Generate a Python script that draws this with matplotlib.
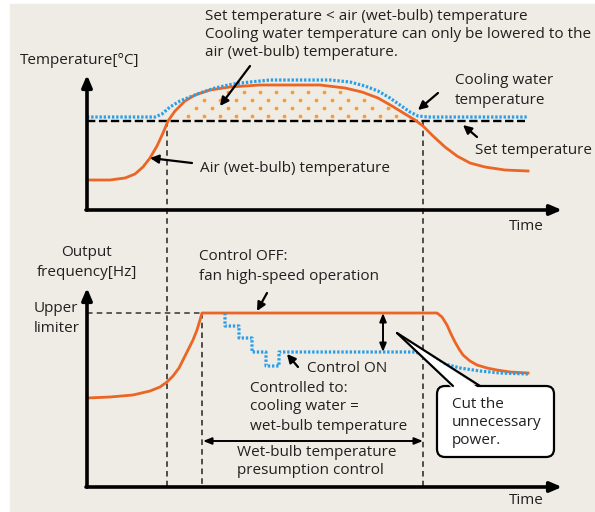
import numpy as np
import matplotlib
matplotlib.use('Agg')
import matplotlib.pyplot as plt
from matplotlib.patches import Rectangle, FancyBboxPatch, Polygon

plt.rcParams['font.family'] = ['Open Sans', 'DejaVu Sans']
plt.rcParams['lines.scale_dashes'] = False

# schematic values (x = time, y = level, in picture units)
air_t = [87, 110, 125, 135, 143, 150, 157, 163, 168, 175, 185, 195, 210, 230, 260, 290, 320, 345,
         362, 378, 392, 405, 415, 423, 433, 445, 457, 470, 485, 505, 528]
air_temp = [180, 180, 178, 174, 167, 158, 146, 133, 121, 111, 101, 95, 90, 87, 85, 85, 85, 88,
            92, 98, 106, 114, 120, 126, 136, 147, 156, 163, 167, 170, 171]
water_t = [87, 155, 162, 170, 180, 190, 200, 215, 233, 250, 270, 300, 330, 350, 365, 378, 390,
           400, 410, 418, 428, 527]
water_temp = [117, 117, 114, 107, 101, 97, 93, 88, 84, 82, 80, 80, 80, 82, 86, 91, 98,
              105, 112, 116, 117, 117]
set_temp = 121

off_t = [87, 110, 133, 150, 160, 167, 173, 179, 184, 189, 193, 197, 200, 202, 437, 442, 447,
         451, 455, 459, 463, 470, 477, 487, 497, 510, 528]
off_freq = [398, 397, 395, 391, 387, 382, 376, 368, 358, 348, 340, 330, 320, 313, 313, 317, 325,
            334, 342, 349, 355, 361, 365, 368, 370, 372, 373]
on_t = [225, 225, 239, 239, 252, 252, 266, 266, 279, 279, 415, 425, 435, 445, 460, 480, 500, 528]
on_freq = [313, 326, 326, 338, 338, 352, 352, 366, 366, 352, 352, 355, 360, 364, 368, 371, 373, 374]
upper_limit = 313

t_start, t_limit, t_end = 167, 202, 423

ORANGE = '#eb6524'
BLUE = '#2a9fe8'
BG = '#efece5'

fig = plt.figure(figsize=(5.95, 5.12), dpi=100)
ax = fig.add_axes([0, 0, 1, 1])
ax.set_xlim(0, 595)
ax.set_ylim(512, 0)
ax.axis('off')

ax.add_patch(Rectangle((10, 4), 585, 508, color=BG, zorder=0))

def arrow(x0, y0, x1, y1, lw=1.6, style='-|>,head_length=0.5,head_width=0.25', z=4):
    ax.annotate('', xy=(x1, y1), xytext=(x0, y0),
                arrowprops=dict(arrowstyle=style, lw=lw, color='black',
                                shrinkA=0, shrinkB=0), zorder=z)

# axes of both panels
for y_top, y_base in [(75, 210), (288, 487)]:
    arrow(87, y_base, 87, y_top, lw=2.6, style='-|>,head_length=0.7,head_width=0.3')
    arrow(86, y_base, 562, y_base, lw=2.6, style='-|>,head_length=0.7,head_width=0.3')

# top panel
air = np.array(air_temp)
ax.plot([87, 525], [set_temp, set_temp], color='black', lw=1.7, ls=(0, (6, 2.6)), zorder=2)
ax.plot(air_t, air_temp, color=ORANGE, lw=2, zorder=3)
ax.plot(water_t, water_temp, color=BLUE, lw=2.3, ls=(0, (1.7, 1.3)), zorder=3)

# stipple between air temperature and set temperature
for k, yy in enumerate(range(116, 82, -8)):
    xs = np.arange(172 + 8 * (k % 2), 420, 16)
    lim = np.interp(xs, air_t, air)
    xs = xs[yy > lim + 4]
    ax.scatter(xs, [yy] * len(xs), s=7, color='#f39c33', lw=0, zorder=2)

# vertical guides
ax.plot([t_start, t_start], [set_temp, 487], color='#333333', lw=1.2, ls=(0, (4, 3)), zorder=1)
ax.plot([t_end, t_end], [set_temp, 487], color='#333333', lw=1.2, ls=(0, (4, 3)), zorder=1)
ax.plot([t_limit, t_limit], [upper_limit, 487], color='#333333', lw=1.2, ls=(0, (4, 3)), zorder=1)
ax.plot([87, t_limit], [upper_limit, upper_limit], color='#333333', lw=1.1, ls=(0, (4, 3)), zorder=1)

# bottom panel
ax.plot(off_t, off_freq, color=ORANGE, lw=2, zorder=3)
ax.plot(on_t, on_freq, color=BLUE, lw=2.3, ls=(0, (1.7, 1.3)), zorder=3)

ax.annotate('', xy=(383, 313), xytext=(383, 352),
            arrowprops=dict(arrowstyle='<|-|>,head_length=0.5,head_width=0.2', lw=1.4,
                            color='black', shrinkA=0, shrinkB=0))
ax.annotate('', xy=(t_limit + 1, 441), xytext=(t_end, 441),
            arrowprops=dict(arrowstyle='<|-|>,head_length=0.5,head_width=0.2', lw=1.4,
                            color='black', shrinkA=0, shrinkB=0))

# pointer arrows
arrow(250, 66, 220, 106)
arrow(438, 93, 418, 110)
arrow(477, 137, 463, 125)
arrow(192, 163, 150, 158)
arrow(267, 293, 257, 311)
arrow(298, 367, 287, 354)

# callout
ax.add_patch(FancyBboxPatch((444, 393), 103, 57, boxstyle='round,pad=7,rounding_size=8',
                            fc='white', ec='black', lw=1.6, zorder=5))
ax.add_patch(Polygon([(397, 333), (453, 389), (480, 389)], closed=True, fc='white', ec='none', zorder=6))
ax.plot([397, 453], [333, 386], color='black', lw=1.6, zorder=7, solid_capstyle='round')
ax.plot([397, 480], [333, 386], color='black', lw=1.6, zorder=7, solid_capstyle='round')

fs = 11.0
def txt(x, y, s, ha='left', z=8):
    ax.text(x, y, s, ha=ha, va='center', fontsize=fs, color='#231f20', zorder=z)

txt(205, 16, 'Set temperature < air (wet-bulb) temperature')
txt(205, 34, 'Cooling water temperature can only be lowered to the')
txt(205, 52, 'air (wet-bulb) temperature.')
txt(20, 61, 'Temperature[°C]')
txt(455, 80, 'Cooling water')
txt(455, 100, 'temperature')
txt(475, 150, 'Set temperature')
txt(200, 168, 'Air (wet-bulb) temperature')
txt(509, 227, 'Time')

txt(87, 252, 'Output', ha='center')
txt(87, 273, 'frequency[Hz]', ha='center')
txt(34, 308, 'Upper')
txt(34, 328, 'limiter')
txt(199, 256, 'Control OFF:')
txt(199, 276, 'fan high-speed operation')
txt(307, 368, 'Control ON')
txt(250, 388, 'Controlled to:')
txt(250, 407, 'cooling water =')
txt(250, 426, 'wet-bulb temperature')
txt(237, 453, 'Wet-bulb temperature')
txt(237, 471, 'presumption control')
txt(509, 501, 'Time')
txt(452, 405, 'Cut the')
txt(452, 423, 'unnecessary')
txt(452, 441, 'power.')

fig.savefig('out.png', dpi=100, facecolor='white')
